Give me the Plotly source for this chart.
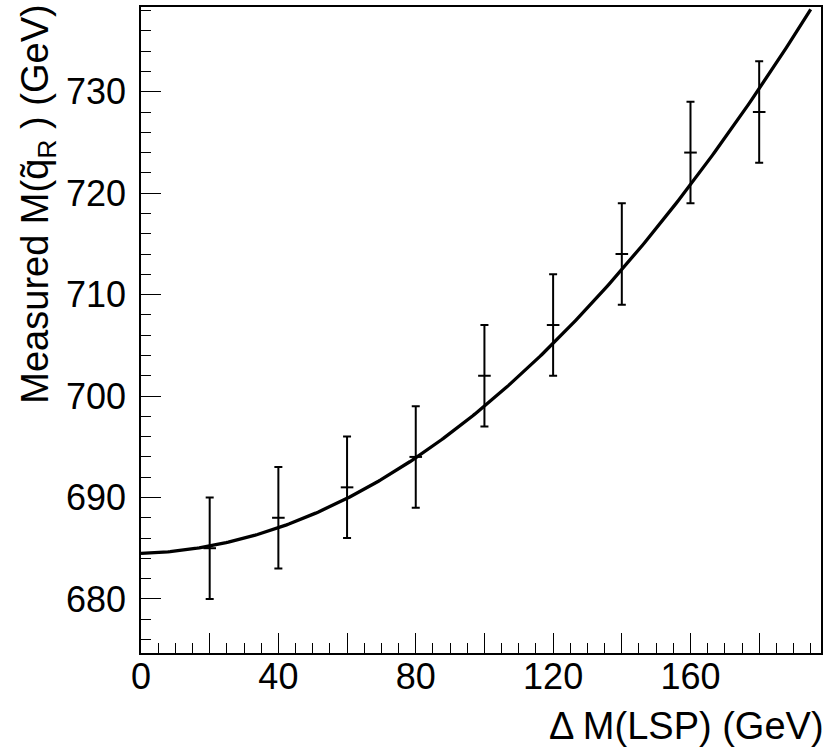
import numpy as np
import plotly.graph_objects as go

# data points (Delta M(LSP), measured squark mass), symmetric errors
dm_lsp = [20, 40, 60, 80, 100, 120, 140, 160, 180]
m_meas = [685, 688, 691, 694, 702, 707, 714, 724, 728]
m_err = [5, 5, 5, 5, 5, 5, 5, 5, 5]

# quadratic fit parameters p0 + p1*x + p2*x^2
fit_p = [684.5, 0.0082, 0.001368]
fit_range = [0, 195]

x_range = [0, 198]
y_range = [674.67, 738.35]
x_major = [0, 20, 40, 60, 80, 100, 120, 140, 160, 180]
x_labels = ["0", " ", "40", " ", "80", " ", "120", " ", "160", " "]
y_major = [680, 690, 700, 710, 720, 730]

xf = np.linspace(fit_range[0], fit_range[1], 300)
yf = fit_p[0] + fit_p[1] * xf + fit_p[2] * xf ** 2

FONT = "Liberation Sans, Arial, Helvetica, sans-serif"

fig = go.Figure()
fig.add_trace(go.Scatter(
    x=xf, y=yf, mode="lines",
    line=dict(color="black", width=3.3),
    hoverinfo="skip", showlegend=False,
))
fig.add_trace(go.Scatter(
    x=dm_lsp, y=m_meas, mode="markers",
    marker=dict(symbol="line-ew", size=9, line=dict(color="black", width=2)),
    error_y=dict(type="data", array=m_err, visible=True, color="black",
                 thickness=2, width=4),
    showlegend=False,
))

axis_common = dict(
    showline=True, linecolor="black", linewidth=1.5, mirror=True,
    ticks="inside", tickcolor="black", tickwidth=1, ticklen=20,
    showgrid=False, zeroline=False, automargin=False,
    tickfont=dict(family=FONT, size=36, color="black"),
)

fig.update_xaxes(
    range=x_range, tickmode="array", tickvals=x_major, ticktext=x_labels,
    minor=dict(dtick=5, tick0=0, ticks="inside", ticklen=10, tickcolor="black", tickwidth=1),
    ticklabelstandoff=-9,
    **axis_common,
)
fig.update_yaxes(
    range=y_range, tickmode="array", tickvals=y_major,
    minor=dict(dtick=2, tick0=0, ticks="inside", ticklen=10, tickcolor="black", tickwidth=1),
    ticklabelstandoff=6,
    **axis_common,
)

fig.add_annotation(
    text="Δ M(LSP) (GeV)", xref="paper", yref="paper",
    x=1.008, y=-0.078, xanchor="right", yanchor="top", showarrow=False,
    font=dict(family=FONT, size=38, color="black"),
)
fig.add_annotation(
    text="Measured M(q\u0303<sub>R</sub> ) (GeV)", xref="paper", yref="paper",
    x=-0.152, y=0.695, xanchor="center", yanchor="middle", showarrow=False,
    textangle=-90,
    font=dict(family=FONT, size=38, color="black"),
)

fig.update_layout(
    width=827, height=749,
    margin=dict(l=141, r=6, t=7, b=96),
    paper_bgcolor="white", plot_bgcolor="white",
)

fig.write_html(
    "out.html",
    config={"displayModeBar": False},
    post_script="document.body.style.margin='0';document.body.style.overflow='hidden';",
)
